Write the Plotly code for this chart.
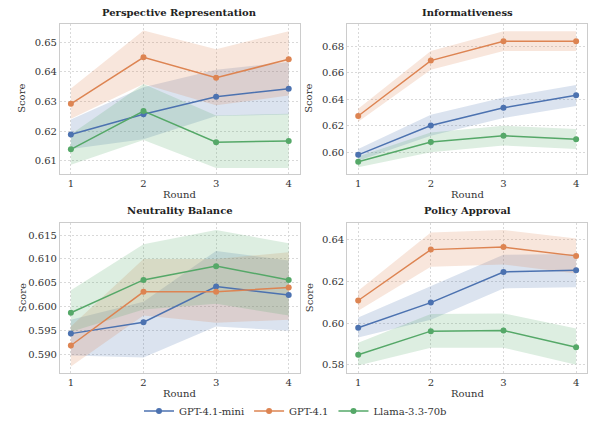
import plotly.graph_objects as go

rounds = [1, 2, 3, 4]
models = ["GPT-4.1-mini", "GPT-4.1", "Llama-3.3-70b"]
colors = ["#4C72B0", "#DD8452", "#55A868"]
band_colors = ["rgba(76,114,176,0.2)", "rgba(221,132,82,0.2)", "rgba(85,168,104,0.2)"]

titles = ["Perspective Representation", "Informativeness", "Neutrality Balance", "Policy Approval"]

# Perspective Representation
pr_mean = [[0.6189, 0.6257, 0.6316, 0.6343],
           [0.6292, 0.6449, 0.6380, 0.6442],
           [0.6139, 0.6268, 0.6163, 0.6167]]
pr_hi = [[0.6239, 0.6348, 0.6407, 0.6433],
         [0.6344, 0.6539, 0.6476, 0.6537],
         [0.6190, 0.6359, 0.6253, 0.6259]]
pr_lo = [[0.6140, 0.6173, 0.6251, 0.6256],
         [0.6242, 0.6359, 0.6287, 0.6320],
         [0.6087, 0.6170, 0.6076, 0.6076]]

# Informativeness
inf_mean = [[0.5980, 0.6201, 0.6335, 0.6430],
            [0.6273, 0.6691, 0.6837, 0.6837],
            [0.5928, 0.6077, 0.6124, 0.6097]]
inf_hi = [[0.6025, 0.6283, 0.6412, 0.6507],
          [0.6328, 0.6763, 0.6912, 0.6912],
          [0.5968, 0.6149, 0.6199, 0.6174]]
inf_lo = [[0.5935, 0.6124, 0.6258, 0.6348],
          [0.6229, 0.6621, 0.6763, 0.6763],
          [0.5886, 0.6000, 0.6050, 0.6025]]

# Neutrality Balance
nb_mean = [[0.5943, 0.5967, 0.6042, 0.6024],
           [0.5918, 0.6031, 0.6031, 0.6040],
           [0.5987, 0.6056, 0.6085, 0.6056]]
nb_hi = [[0.5972, 0.6010, 0.6117, 0.6097],
         [0.5958, 0.6100, 0.6100, 0.6114],
         [0.6034, 0.6131, 0.6161, 0.6133]]
nb_lo = [[0.5897, 0.5893, 0.5958, 0.5949],
         [0.5874, 0.5981, 0.5966, 0.5972],
         [0.5947, 0.5994, 0.6006, 0.5981]]

# Policy Approval
pa_mean = [[0.5978, 0.6099, 0.6246, 0.6254],
           [0.6109, 0.6353, 0.6365, 0.6323],
           [0.5849, 0.5962, 0.5965, 0.5885]]
pa_hi = [[0.6028, 0.6178, 0.6328, 0.6332],
         [0.6156, 0.6435, 0.6447, 0.6406],
         [0.5907, 0.6044, 0.6047, 0.5975]]
pa_lo = [[0.5931, 0.6017, 0.6167, 0.6172],
         [0.6060, 0.6271, 0.6282, 0.6238],
         [0.5797, 0.5883, 0.5883, 0.5801]]

panels = [(pr_mean, pr_hi, pr_lo), (inf_mean, inf_hi, inf_lo),
          (nb_mean, nb_hi, nb_lo), (pa_mean, pa_hi, pa_lo)]

y_ranges = [[0.6056, 0.6562], [0.5836, 0.6969], [0.5860, 0.6175], [0.5761, 0.6479]]
y_ticks = [[0.61, 0.62, 0.63, 0.64, 0.65],
           [0.60, 0.62, 0.64, 0.66, 0.68],
           [0.590, 0.595, 0.600, 0.605, 0.610, 0.615],
           [0.58, 0.60, 0.62, 0.64]]
y_fmt = [".2f", ".2f", ".3f", ".2f"]

W, H = 591, 426
x_doms = [[60 / W, 299.6 / W], [347.3 / W, 587 / W]]
y_doms = [[(H - 176) / H, (H - 24) / H], [(H - 377.5) / H, (H - 226) / H]]

FONT = "DejaVu Serif, serif"
fig = go.Figure()

for p, (mean, hi, lo) in enumerate(panels):
    xa = "x" if p == 0 else f"x{p+1}"
    ya = "y" if p == 0 else f"y{p+1}"
    for m in range(3):
        fig.add_trace(go.Scatter(
            x=rounds + rounds[::-1], y=hi[m] + lo[m][::-1],
            fill="toself", fillcolor=band_colors[m], line=dict(width=0),
            mode="lines", hoverinfo="skip", showlegend=False, xaxis=xa, yaxis=ya))
    for m in range(3):
        fig.add_trace(go.Scatter(
            x=rounds, y=mean[m], mode="lines+markers", name=models[m],
            line=dict(color=colors[m], width=1.5),
            marker=dict(color=colors[m], size=6),
            showlegend=(p == 0), legendgroup=models[m], xaxis=xa, yaxis=ya))

layout = dict(
    width=W, height=H, margin=dict(l=0, r=0, t=0, b=0),
    paper_bgcolor="white", plot_bgcolor="white",
    font=dict(family=FONT, size=10, color="#333333"),
    legend=dict(orientation="h", x=0.5, xanchor="center", y=(H - 416) / H, yanchor="middle",
                font=dict(family=FONT, size=10, color="#333333"), itemwidth=30,
                tracegroupgap=0, bgcolor="rgba(0,0,0,0)"),
    annotations=[],
)

axis_common = dict(showline=True, mirror=True, linecolor="#cccccc", linewidth=1.2,
                   showgrid=True, gridcolor="#d9d9d9", griddash="2px,2px", gridwidth=0.8,
                   zeroline=False, ticks="", tickfont=dict(family=FONT, size=10, color="#333333"))

for p in range(4):
    r, c = divmod(p, 2)
    sx = "" if p == 0 else str(p + 1)
    layout[f"xaxis{sx}"] = dict(axis_common, domain=x_doms[c], range=[0.85, 4.15],
                                tickvals=rounds, ticktext=[str(v) for v in rounds],
                                anchor=f"y{sx}")
    layout[f"yaxis{sx}"] = dict(axis_common, domain=y_doms[r], range=y_ranges[p],
                                tickvals=y_ticks[p], tickformat=y_fmt[p],
                                anchor=f"x{sx}")

ann = []
title_y = [13, 213]
round_y = [197, 398]
score_x = [22, 309]
for p in range(4):
    r, c = divmod(p, 2)
    cx = (x_doms[c][0] + x_doms[c][1]) / 2
    ann.append(dict(text=f"<b>{titles[p]}</b>", x=cx, y=(H - title_y[r]) / H, xref="paper", yref="paper",
                    showarrow=False, xanchor="center", yanchor="middle",
                    font=dict(family=FONT, size=10, color="#222222")))
    ann.append(dict(text="Round", x=cx, y=(H - round_y[r]) / H, xref="paper", yref="paper",
                    showarrow=False, xanchor="center", yanchor="middle",
                    font=dict(family=FONT, size=10, color="#333333")))
    cy = (y_doms[r][0] + y_doms[r][1]) / 2
    ann.append(dict(text="Score", x=score_x[c] / W, y=cy, xref="paper", yref="paper",
                    showarrow=False, xanchor="center", yanchor="middle", textangle=-90,
                    font=dict(family=FONT, size=10, color="#333333")))
layout["annotations"] = ann

fig.update_layout(**layout)
fig.write_html("out.html", config={"displayModeBar": False},
               post_script="document.body.style.margin='0';document.body.style.padding='0';")
